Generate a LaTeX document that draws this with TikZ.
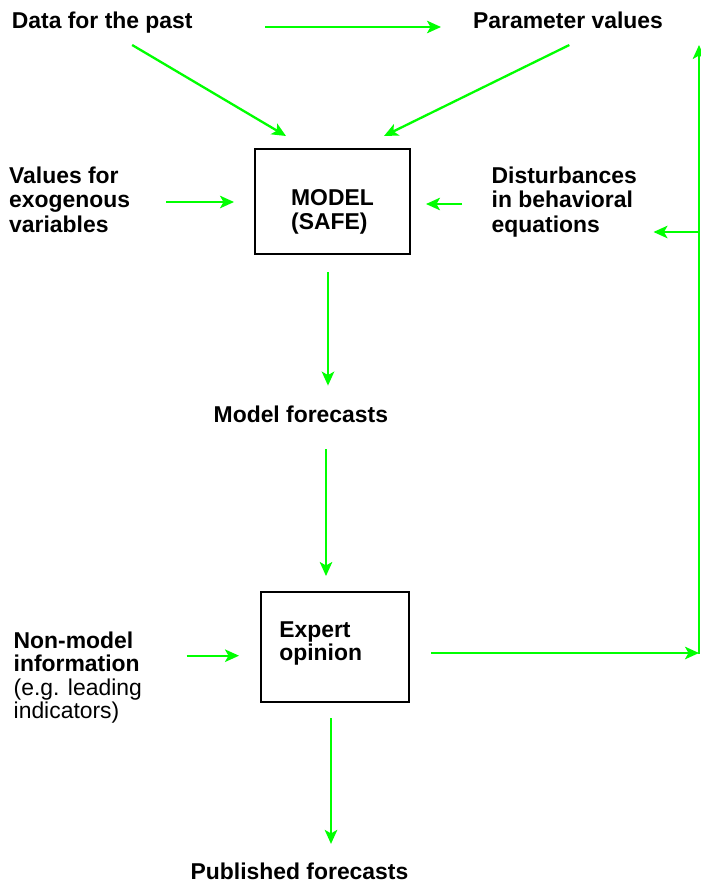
\documentclass[tikz,border=0pt]{standalone}
\usepackage{fontspec}
\setmainfont{Liberation Sans}
\usetikzlibrary{arrows.meta,calc}
\definecolor{grn}{RGB}{0,255,0}
\begin{document}
\begin{tikzpicture}[x=1pt,y=-1pt,
  lbl/.style={inner sep=0pt, anchor=base west, align=left, font=\fontsize{22.9}{24.5}\selectfont\bfseries},
  box/.style={draw=black, line width=1.2pt, inner sep=0pt, align=left, font=\fontsize{22.9}{24}\selectfont\bfseries},
  arr/.style={draw=grn, line width=2.3pt, -{Stealth[length=14pt,width=12.5pt,inset=3.5pt]}}]
\useasboundingbox (0,0) rectangle (701,886);
\fill[white] (0,0) rectangle (701,886);
% text nodes (base = baseline of the last line)
\node[lbl] (data) at (11.7,28) {Data for the past};
\node[lbl] (param) at (473,28) {Parameter values};
\node[lbl] (values) at (9,232.3) {Values for\\exogenous\\variables};
\node[lbl] (dist) at (491.5,232.3) {Disturbances\\in behavioral\\equations};
\node[lbl] (mf) at (213.5,422) {Model forecasts};
\node[lbl, font=\fontsize{22.9}{23.3}\selectfont] (nonmodel) at (13.5,718.3) {\textbf{Non-model}\\\textbf{information}\\(e.g. leading\\indicators)};
\node[lbl] (pub) at (190.5,879) {Published forecasts};
% boxes
\node[box, minimum width=155pt, minimum height=105pt] (model) at (332.5,201.5) {\rule{0pt}{37.2pt}MODEL\hspace{8.3pt}\\(SAFE)};
\node[box, font=\fontsize{22.9}{23}\selectfont\bfseries, minimum width=148pt, minimum height=110pt] (expert) at (335,647) {Expert\\opinion\hspace{28.7pt}\rule[-12pt]{0pt}{0pt}};
% connectors
\draw[arr, shorten <=72.6pt, shorten >=32pt] ($(data.base east)+(0,-1)$) -- ($(param.base west)+(0,-1)$);
\draw[arr] ($(data.base)+(29.9,17)$) -- ($(model.north west)+(31.6,-12.4)$);
\draw[arr] ($(param.base)+(1.3,17)$) -- ($(model.north east)+(-26.6,-12.4)$);
\draw[arr, shorten <=36pt, shorten >=20.4pt] ($(values.east |- model.west)+(0,0.5)$) -- ($(model.west)+(0,0.5)$);
\draw[arr, shorten <=29.5pt, shorten >=15.4pt] ($(dist.west |- model.east)+(0,2.5)$) -- ($(model.east)+(0,2.5)$);
\draw[arr] ($(model.south)+(-4.5,17.4)$) -- ($(model.south |- mf.north)+(-4.5,-19.6)$);
\draw[arr] ($(mf.south -| expert.north)+(-9,27)$) -- ($(expert.north)+(-9,-15.4)$);
\draw[arr] ($(expert.south)+(-4,15.4)$) -- ($(expert.south |- pub.north)+(-4,-18.3)$);
\draw[arr] ($(nonmodel.east |- expert.west)+(44.5,8.7)$) -- ($(expert.west)+(-21.4,8.7)$);
\coordinate (corner) at (699,653);
\coordinate (br) at (699,232);
\draw[arr, shorten <=21.4pt] (expert.east |- corner) -- (corner);
\draw[arr, shorten >=17pt] ($(corner)+(0,1)$) -- (corner |- param.base);
\draw[arr, shorten >=16.5pt] (br) -- (dist.east |- br);
\end{tikzpicture}
\end{document}
